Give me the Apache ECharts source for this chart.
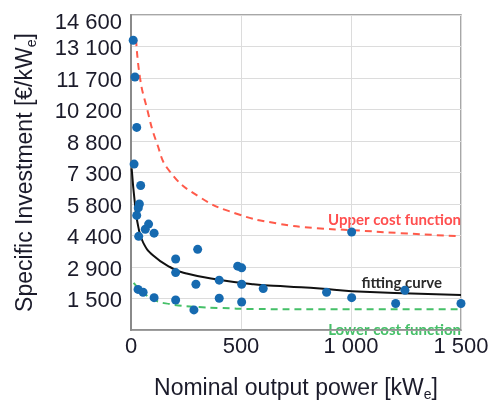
<!DOCTYPE html>
<html>
<head>
<meta charset="utf-8">
<script src="https://cdn.jsdelivr.net/npm/echarts@6/dist/echarts.min.js"></script>
<style>
  html, body { margin: 0; padding: 0; background: #fff; }
  #chart { width: 496px; height: 407px; }
</style>
</head>
<body>
<div id="chart"></div>
<script>
// Observed plants: nominal power [kWe] and specific investment [€/kWe]
const plantPower = [10, 18, 26, 14, 44, 38, 33, 26, 80, 65, 105, 35,
  303, 203, 203, 485, 503, 401, 295, 503, 601,
  32, 55, 105, 203, 401, 503, 286,
  1003, 889, 1003, 1245, 1203, 1500];
const plantCost = [13430, 11724, 9390, 7690, 6700, 5840, 5660, 5310, 4910, 4670, 4490, 4340,
  3740, 3290, 2660, 2960, 2880, 2310, 2120, 2120, 1920,
  1880, 1750, 1500, 1390, 1470, 1300, 930,
  4540, 1750, 1500, 1840, 1230, 1230];

// Cost curves sampled along power [kWe]
const upperPower = [23, 41, 71, 117, 177, 314, 480, 662, 844, 1003, 1223, 1500];
const upperCost = [13480, 11680, 10330, 8680, 7340, 6150, 5390, 4940, 4720, 4630, 4490, 4340];
const fitPower = [3, 18, 33, 56, 101, 177, 253, 405, 556, 708, 859, 1003, 1500];
const fitCost = [7490, 5840, 4790, 4040, 3450, 2920, 2620, 2320, 2125, 2020, 1920, 1800, 1620];
const lowerPower = [12, 41, 101, 177, 283, 405, 556, 859, 1500];
const lowerCost = [2180, 1870, 1420, 1200, 1080, 1020, 975, 960, 960];

// Axis ticks
const yTickStep = 1460;
const yMax = 14600;
const xTickStep = 500;
const xMax = 1500;

const pairs = (xs, ys) => xs.map((x, i) => [x, ys[i]]);
const spaced = v => String(Math.round(v)).replace(/\B(?=(\d{3})+(?!\d))/g, ' ');

const chart = echarts.init(document.getElementById('chart'), null, { renderer: 'canvas' });
const labelColor = '#1b1b2a';
const sub = { fontSize: 14, fontFamily: 'Liberation Sans', color: labelColor, padding: [12, 0, 0, 0] };

chart.setOption({
  animation: false,
  grid: {
    left: 131, right: 35, top: 15, bottom: 67,
    show: true, borderColor: '#8a8a8a', borderWidth: 1.5
  },
  xAxis: {
    type: 'value', min: 0, max: xMax, interval: xTickStep,
    name: 'Nominal output power [kW{s|e}]',
    nameLocation: 'middle', nameGap: 46,
    nameTextStyle: { fontFamily: 'Liberation Sans', fontSize: 23, color: labelColor, rich: { s: sub } },
    axisLine: { show: true, lineStyle: { color: '#8a8a8a', width: 1.5 } },
    axisTick: { show: false },
    axisLabel: { fontFamily: 'Liberation Sans', fontSize: 22, color: labelColor, margin: 6,
      formatter: v => spaced(v) },
    splitLine: { show: true, lineStyle: { color: '#dcdcdc', width: 1 } }
  },
  yAxis: {
    type: 'value', min: 0, max: yMax, interval: yTickStep,
    name: 'Specific Investment [€/kW{s|e}]',
    nameLocation: 'middle', nameGap: 92, nameRotate: 90,
    nameTextStyle: { fontFamily: 'Liberation Sans', fontSize: 23, color: labelColor, rich: { s: sub } },
    axisLine: { show: true, lineStyle: { color: '#8a8a8a', width: 2 } },
    axisTick: { show: false },
    axisLabel: { fontFamily: 'Liberation Sans', fontSize: 22, color: labelColor, margin: 9,
      padding: [5, 0, 0, 0],
      formatter: v => v === 0 ? '' : (v >= yMax ? '{top|' + spaced(v) + '}' : spaced(Math.round(v / 100) * 100)),
      rich: { top: { fontFamily: 'Liberation Sans', fontSize: 22, color: labelColor, padding: [10, 0, 0, 0] } }
    },
    splitLine: { show: true, lineStyle: { color: '#dcdcdc', width: 1 } }
  },
  series: [
    {
      type: 'line', data: pairs(upperPower, upperCost), smooth: true, showSymbol: false,
      lineStyle: { color: '#ff5a4a', width: 2, type: [7, 5] }, z: 2
    },
    {
      type: 'line', data: pairs(lowerPower, lowerCost), smooth: true, showSymbol: false,
      lineStyle: { color: '#45c068', width: 2, type: [7, 5] }, z: 2
    },
    {
      type: 'line', data: pairs(fitPower, fitCost), smooth: true, showSymbol: false,
      lineStyle: { color: '#111111', width: 2 }, z: 3
    },
    {
      type: 'scatter', data: pairs(plantPower, plantCost), symbolSize: 9,
      itemStyle: { color: '#166ab0', opacity: 1 }, z: 4
    }
  ],
  graphic: [
    { type: 'text', right: 35, top: 213,
      style: { text: 'Upper cost function', fill: '#ff4f4f', font: 'bold 15px Lato' } },
    { type: 'text', right: 54, top: 276,
      style: { text: 'fitting curve', fill: '#2a2a2a', font: 'bold 15px Lato' } },
    { type: 'text', right: 35, top: 323,
      style: { text: 'Lower cost function', fill: '#45c068', font: 'bold 15px Lato' } }
  ]
});
</script>
</body>
</html>
